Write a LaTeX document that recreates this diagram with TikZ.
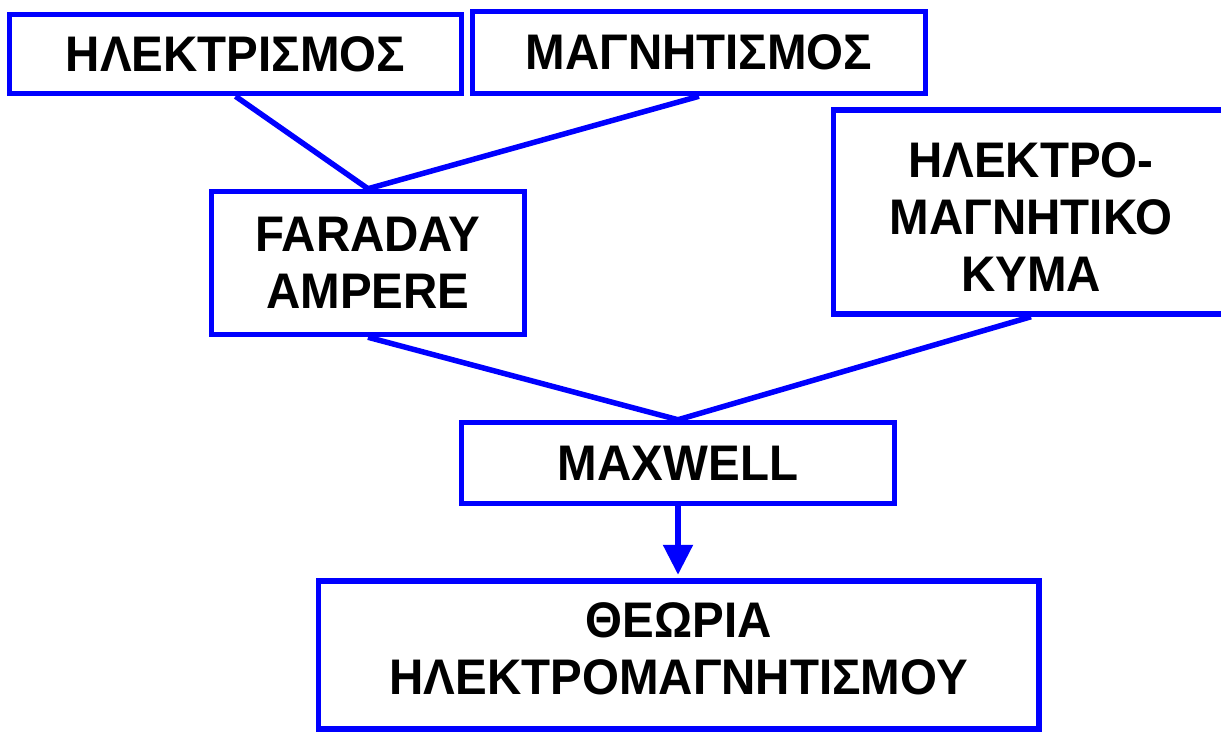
\documentclass[tikz,border=0pt]{standalone}
\usepackage{fontspec}
\setmainfont{Liberation Sans}[FakeStretch=0.95]
\usetikzlibrary{arrows.meta}
\definecolor{lineblue}{RGB}{0,0,255}
\begin{document}
\begin{tikzpicture}[x=1pt,y=-1pt,
  box/.style={draw=lineblue, line width=5.5pt, fill=white, inner sep=0pt,
    align=center, text=black,
    font=\fontsize{50}{57}\selectfont\bfseries},
  link/.style={draw=lineblue, line width=5.5pt},
  arr/.style={draw=lineblue, line width=5.5pt,
    -{Triangle[width=29pt,length=30pt]}, shorten >=3.5pt}]
\useasboundingbox (0,0) rectangle (1221,731);
\node[box, minimum width=452pt, minimum height=79pt] (A) at (235.5,54) {ΗΛΕΚΤΡΙΣΜΟΣ};
\node[box, minimum width=453pt, minimum height=82pt] (B) at (699,52.5) {ΜΑΓΝΗΤΙΣΜΟΣ};
\node[box, minimum width=313pt, minimum height=143pt] (C) at (368,263) {FARADAY\\AMPERE};
\node[box, minimum width=395pt, minimum height=204pt] (D) at (1031,212) {\rule{0pt}{45.5pt}ΗΛΕΚΤΡΟ-\\ΜΑΓΝΗΤΙΚΟ\\ΚΥΜΑ};
\node[box, minimum width=433pt, minimum height=81pt] (E) at (678,463) {MAXWELL};
\node[box, minimum width=720.5pt, minimum height=148pt] (F) at (678.7,655) {ΘΕΩΡΙΑ\\ΗΛΕΚΤΡΟΜΑΓΝΗΤΙΣΜΟΥ\rule[-12pt]{0pt}{0pt}};
\draw[link] (A.south) -- (C.north);
\draw[link] (B.south) -- (C.north);
\draw[link] (C.south) -- (E.north);
\draw[link] (D.south) -- (E.north);
\draw[arr] (E.south) -- (E.south |- F.north);
\end{tikzpicture}
\end{document}
